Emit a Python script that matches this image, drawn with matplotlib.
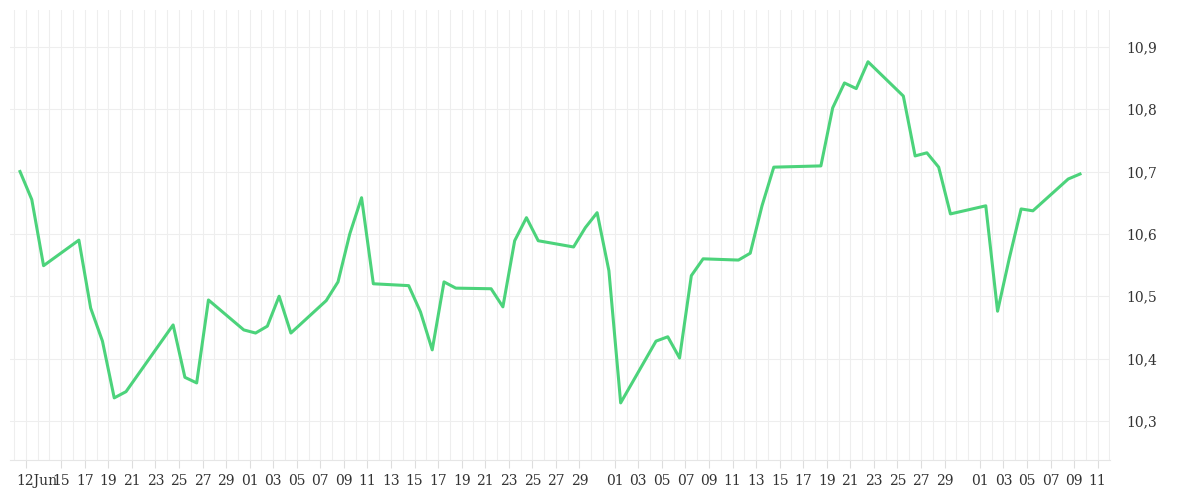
import matplotlib
matplotlib.use('Agg')
import matplotlib.pyplot as plt
import matplotlib.dates as mdates
import datetime as dt

# day offsets from 12 Jun and the values
days = [0, 1, 2, 5, 6, 7, 8, 9, 13, 14, 15, 16, 19, 20, 21, 22, 23, 26, 27, 28, 29, 30,
        33, 34, 35, 36, 37, 40, 41, 42, 43, 44, 47, 48, 49, 50, 51, 54, 55, 56, 57, 58,
        61, 62, 63, 64, 68, 69, 70, 71, 72, 75, 76, 77, 78, 79, 82, 83, 84, 85, 86, 89, 90]
values = [10.700, 10.655, 10.549, 10.590, 10.481, 10.428, 10.337, 10.347, 10.454, 10.370,
          10.361, 10.494, 10.446, 10.441, 10.452, 10.500, 10.441, 10.493, 10.523, 10.600,
          10.658, 10.520, 10.517, 10.475, 10.414, 10.523, 10.513, 10.512, 10.483, 10.589,
          10.626, 10.589, 10.579, 10.610, 10.634, 10.541, 10.329, 10.428, 10.435, 10.401,
          10.533, 10.560, 10.558, 10.569, 10.645, 10.707, 10.709, 10.802, 10.842, 10.833,
          10.876, 10.821, 10.725, 10.730, 10.707, 10.632, 10.645, 10.476, 10.561, 10.640,
          10.637, 10.688, 10.696]
yticks = [10.3, 10.4, 10.5, 10.6, 10.7, 10.8, 10.9]

start = dt.datetime(2023, 6, 12)
dates = [start + dt.timedelta(days=d) for d in days]

# tick labels: 12Jun, then every odd day of month
tick_days = [start]
d = dt.datetime(2023, 6, 15)
end = dt.datetime(2023, 9, 11)
while d <= end:
    if d.day % 2 == 1 and d.day != 31:
        tick_days.append(d)
    d += dt.timedelta(days=1)
tick_labels = ['12Jun'] + [t.strftime('%d') for t in tick_days[1:]]
tick_pos = [t + dt.timedelta(hours=12) for t in tick_days]

fig = plt.figure(figsize=(12, 5), dpi=100)
ax = fig.add_axes([0.00833, 0.08, 0.9167, 0.9])

ax.plot(dates, values, color='#4cd37b', lw=2.2, zorder=3)

ax.set_xlim(start - dt.timedelta(days=0.85), start + dt.timedelta(days=92.55))
ax.set_ylim(10.2374, 10.959)

ax.xaxis.set_minor_locator(mdates.HourLocator(byhour=[12]))
ax.set_xticks(tick_pos)
ax.set_xticklabels(tick_labels)
ax.set_yticks(yticks)
ax.set_yticklabels([f'{v:.1f}'.replace('.', ',') for v in yticks])

ax.yaxis.tick_right()
ax.grid(True, which='both', axis='x', color='#eeeeee', lw=0.8)
ax.grid(True, which='major', axis='y', color='#eeeeee', lw=0.8)

for s in ['top', 'left', 'right']:
    ax.spines[s].set_visible(False)
ax.spines['bottom'].set_color('#e6e6e6')

ax.tick_params(axis='x', which='major', length=6, color='#dddddd', labelsize=10,
               labelcolor='#333333', pad=4)
ax.tick_params(axis='x', which='minor', length=0)
ax.tick_params(axis='y', length=0, labelsize=10, labelcolor='#333333', pad=12)
for lab in ax.get_xticklabels() + ax.get_yticklabels():
    lab.set_family('DejaVu Serif')
ax.get_xticklabels()[0].set_horizontalalignment('left')
ax.get_xticklabels()[0].set_x(ax.get_xticklabels()[0].get_position()[0])
import matplotlib.transforms as mtransforms
ax.get_xticklabels()[0].set_transform(ax.get_xticklabels()[0].get_transform()
                                      + mtransforms.ScaledTranslation(-0.1, 0, fig.dpi_scale_trans))

fig.savefig('out.png', dpi=100)
